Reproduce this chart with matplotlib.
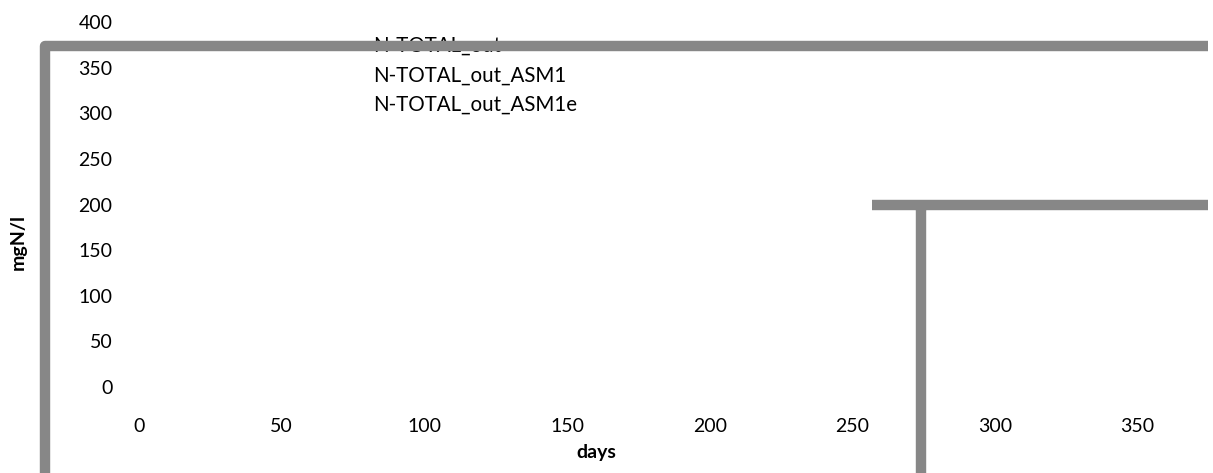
import matplotlib
matplotlib.use("Agg")
import matplotlib.pyplot as plt
from matplotlib.lines import Line2D

plt.rcParams['font.family'] = ['Lato', 'DejaVu Sans']

nan = float('nan')

# Series (days, mgN/l)
out_days = [-33, -33, 374.5]
out_vals = [-200, 374, 374]
asm1_days = [274, 274, nan, 257, 374.5]
asm1_vals = [-200, 200, nan, 200, 200]
asm1e_days = []
asm1e_vals = []

series_names = ["N-TOTAL_out", "N-TOTAL_out_ASM1", "N-TOTAL_out_ASM1e"]
x_ticks = [0, 50, 100, 150, 200, 250, 300, 350]
y_ticks = [0, 50, 100, 150, 200, 250, 300, 350, 400]

W, H = 1213, 473
fig = plt.figure(figsize=(W / 100, H / 100), dpi=100)
ax = fig.add_axes([139 / W, (H - 387) / H, 1068 / W, 365 / H])
ax.set_xlim(0, 374.3)
ax.set_ylim(0, 400)

grey = '#878787'
for d, v in [(out_days, out_vals), (asm1_days, asm1_vals), (asm1e_days, asm1e_vals)]:
    ax.plot(d, v, color=grey, lw=7.5, clip_on=False, zorder=10,
            solid_joinstyle='round', solid_capstyle='butt')

for s in ax.spines.values():
    s.set_visible(False)
ax.set_xticks(x_ticks)
ax.set_yticks(y_ticks)
ax.tick_params(length=0, labelsize=14, colors='black')
ax.tick_params(axis='x', pad=22)
ax.tick_params(axis='y', pad=19)

handles = [Line2D([], [], color='none') for _ in series_names]
leg = ax.legend(handles, series_names, loc='upper left',
                bbox_to_anchor=(373 / W, 1 - 36 / H), bbox_transform=fig.transFigure,
                frameon=False, fontsize=14.8, handlelength=0, handletextpad=0,
                borderpad=0, borderaxespad=0, labelspacing=0.45)
leg.set_zorder(5)

fig.text(596 / W, 1 - 452 / H, "days", ha='center', va='center',
         fontsize=14, fontweight='bold')
fig.text(18 / W, 1 - 242 / H, "mgN/l", ha='center', va='center',
         rotation=90, fontsize=14, fontweight='bold')

fig.savefig("out.png", dpi=100)
